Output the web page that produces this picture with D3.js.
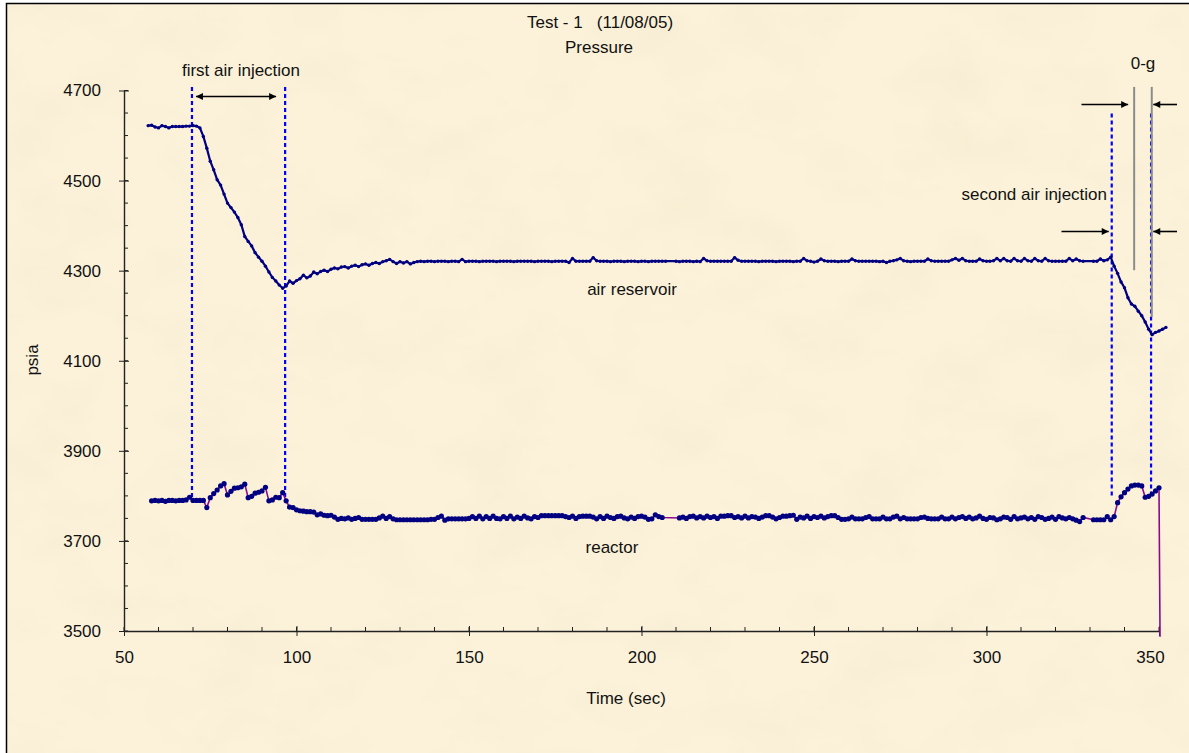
<!DOCTYPE html>
<html>
<head>
<meta charset="utf-8">
<script src="https://cdn.jsdelivr.net/npm/d3@7"></script>
<style>
  body { margin: 0; background: #fff; }
  svg text { font-family: "Liberation Sans", Arial, sans-serif; fill: #111; }
</style>
</head>
<body>
<div id="chart"></div>
<script>
// air reservoir pressure, one sample per second (psia)
var airTime = [
  57,58,59,60,61,62,63,64,65,66,
  67,68,69,70,71,72,73,74,75,76,
  77,78,79,80,81,82,83,84,85,86,
  87,88,89,90,91,92,93,94,95,96,
  97,98,99,100,101,102,103,104,105,106,
  107,108,109,110,111,112,113,114,115,116,
  117,118,119,120,121,122,123,124,125,126,
  127,128,129,130,131,132,133,134,135,136,
  137,138,139,140,141,142,143,144,145,146,
  147,148,149,150,151,152,153,154,155,156,
  157,158,159,160,161,162,163,164,165,166,
  167,168,169,170,171,172,173,174,175,176,
  177,178,179,180,181,182,183,184,185,186,
  187,188,189,190,191,192,193,194,195,196,
  197,198,199,200,201,202,203,204,205,206,
  207,210,211,212,213,214,215,216,217,218,
  219,220,221,222,223,224,225,226,227,228,
  229,230,231,232,233,234,235,236,237,238,
  239,240,241,242,243,244,245,246,247,248,
  249,250,251,252,253,254,255,256,257,258,
  259,260,261,262,263,264,265,266,267,268,
  269,270,271,272,273,274,275,276,277,278,
  279,280,281,282,283,284,285,286,287,288,
  289,290,291,292,293,294,295,296,297,298,
  299,300,301,302,303,304,305,306,307,308,
  309,310,311,312,313,314,315,316,317,318,
  319,320,321,322,323,324,325,326,327,328,
  331,332,333,334,335,336,337,338,339,340,
  341,342,343,344,345,346,347,348,349,350,
  351,352
];
var airPsia = [
  4622,4623,4619,4617,4622,4620,4617,4620,4620,4620,
  4620,4621,4621,4622,4621,4617,4598,4572,4543,4524,
  4502,4490,4470,4450,4440,4430,4418,4402,4376,4365,
  4355,4340,4330,4321,4310,4297,4285,4277,4268,4261,
  4266,4277,4272,4278,4282,4290,4284,4288,4297,4293,
  4298,4301,4298,4303,4306,4304,4308,4309,4306,4310,
  4312,4309,4313,4315,4312,4316,4318,4316,4320,4322,
  4325,4320,4316,4320,4317,4320,4315,4318,4320,4321,
  4320,4321,4321,4320,4321,4321,4321,4320,4321,4321,
  4320,4325,4320,4321,4321,4321,4320,4321,4321,4321,
  4321,4320,4321,4321,4321,4321,4320,4321,4321,4321,
  4321,4321,4320,4321,4321,4321,4321,4320,4321,4321,
  4321,4321,4318,4327,4321,4321,4321,4321,4321,4329,
  4322,4321,4321,4321,4320,4321,4321,4321,4320,4321,
  4321,4321,4320,4321,4321,4320,4321,4321,4321,4321,
  4321,4321,4320,4321,4321,4321,4320,4321,4320,4327,
  4322,4321,4321,4321,4321,4321,4321,4321,4329,4323,
  4321,4321,4321,4321,4321,4320,4321,4321,4321,4321,
  4320,4321,4321,4321,4321,4320,4321,4321,4327,4322,
  4321,4319,4321,4326,4322,4321,4321,4321,4320,4321,
  4321,4321,4326,4322,4321,4321,4321,4321,4321,4321,
  4320,4321,4318,4321,4322,4324,4327,4322,4321,4320,
  4321,4321,4321,4321,4326,4322,4321,4321,4321,4321,
  4321,4324,4327,4323,4327,4322,4321,4321,4321,4326,
  4322,4321,4321,4322,4327,4322,4327,4322,4321,4327,
  4322,4321,4327,4322,4321,4327,4322,4321,4327,4322,
  4321,4321,4321,4321,4321,4327,4322,4326,4322,4321,
  4321,4321,4326,4322,4324,4330,4310,4294,4275,4262,
  4240,4226,4221,4210,4200,4186,4170,4158,4163,4166,
  4170,4174
];

// reactor pressure (psia), last sample falls off the bottom of the axis
var reactorTime = [
  58,59,60,61,62,63,64,65,66,67,
  68,69,70,71,72,73,74,75,76,77,
  78,79,80,81,82,83,84,85,86,87,
  88,89,90,91,92,93,94,95,96,97,
  98,99,100,101,102,103,104,105,106,107,
  108,109,110,111,112,113,114,115,116,117,
  118,119,120,121,122,123,124,125,126,127,
  128,129,130,131,132,133,134,135,136,137,
  138,139,140,141,142,143,144,145,146,147,
  148,149,150,151,152,153,154,155,156,157,
  158,159,160,161,162,163,164,165,166,167,
  168,169,170,171,172,173,174,175,176,177,
  178,179,180,181,182,183,184,185,186,187,
  188,189,190,191,192,193,194,195,196,197,
  198,199,200,201,202,203,204,205,206,211,
  212,213,214,215,216,217,218,219,220,221,
  222,223,224,225,226,227,228,229,230,231,
  232,233,234,235,236,237,238,239,240,241,
  242,243,244,245,246,247,248,249,250,251,
  252,253,254,255,256,257,258,259,260,261,
  262,263,264,265,266,267,268,269,270,271,
  272,273,274,275,276,277,278,279,280,281,
  282,283,284,285,286,287,288,289,290,291,
  292,293,294,295,296,297,298,299,300,301,
  302,303,304,305,306,307,308,309,310,311,
  312,313,314,315,316,317,318,319,320,321,
  322,323,324,325,326,327,328,331,332,333,
  334,335,336,337,338,339,340,341,342,343,
  344,345,346,347,348,349,350,350.3
];
var reactorPsia = [
  3789,3790,3789,3790,3788,3790,3790,3789,3790,3790,
  3791,3797,3790,3790,3790,3790,3774,3796,3805,3813,
  3822,3827,3802,3810,3817,3818,3820,3826,3796,3799,
  3806,3808,3811,3819,3789,3791,3797,3796,3807,3789,
  3775,3774,3769,3767,3766,3765,3765,3764,3758,3760,
  3757,3756,3757,3753,3748,3750,3749,3751,3748,3750,
  3752,3748,3748,3748,3748,3748,3751,3755,3750,3754,
  3749,3747,3747,3747,3747,3747,3747,3747,3747,3747,
  3747,3748,3748,3752,3755,3746,3749,3749,3749,3749,
  3749,3749,3750,3754,3750,3755,3749,3754,3750,3755,
  3750,3749,3754,3750,3755,3749,3753,3750,3755,3751,
  3749,3754,3752,3756,3756,3756,3756,3756,3756,3756,
  3754,3752,3755,3750,3754,3755,3755,3755,3753,3749,
  3754,3750,3755,3752,3750,3754,3755,3751,3749,3753,
  3750,3754,3755,3753,3748,3749,3758,3754,3752,3751,
  3753,3750,3754,3755,3751,3754,3751,3755,3752,3754,
  3750,3755,3755,3756,3756,3752,3754,3751,3755,3751,
  3754,3753,3750,3753,3756,3756,3753,3749,3752,3755,
  3755,3756,3757,3748,3753,3751,3755,3750,3754,3752,
  3755,3751,3754,3756,3756,3752,3748,3748,3749,3753,
  3749,3749,3749,3752,3754,3749,3749,3749,3753,3749,
  3749,3753,3755,3749,3752,3749,3749,3749,3749,3752,
  3753,3750,3749,3749,3749,3753,3749,3749,3753,3749,
  3752,3754,3750,3753,3749,3751,3755,3750,3748,3752,
  3751,3747,3749,3753,3752,3748,3754,3749,3751,3753,
  3749,3752,3748,3754,3752,3748,3750,3753,3748,3754,
  3751,3749,3752,3749,3746,3743,3752,3747,3747,3747,
  3747,3754,3747,3754,3785,3798,3807,3815,3822,3824,
  3824,3822,3797,3799,3804,3811,3818,3487
];

var xTicks = [50, 100, 150, 200, 250, 300, 350];
var yTicks = [3500, 3700, 3900, 4100, 4300, 4500, 4700];

// event times (sec)
var injectionTimes = [69.7, 96.7, 336.3, 347.7];   // blue dashed markers
var zeroGTimes = [342.8, 347.9];                    // grey 0-g bounds

function drawChart(){
    var W = 1189, H = 753;
    var svg = d3.select("#chart").append("svg")
        .attr("width", W)
        .attr("height", H);

    var defs = svg.append("defs");
    var filt = defs.append("filter").attr("id", "parch")
        .attr("x", 0).attr("y", 0).attr("width", "100%").attr("height", "100%");
    filt.append("feTurbulence")
        .attr("type", "fractalNoise")
        .attr("baseFrequency", "0.011 0.016")
        .attr("numOctaves", 4)
        .attr("seed", 7);
    filt.append("feColorMatrix")
        .attr("type", "matrix")
        .attr("values", "0 0 0 0 0.90  0 0 0 0 0.82  0 0 0 0 0.62  1.1 0 0 0 -0.48");

    defs.append("marker")
        .attr("id", "head")
        .attr("viewBox", "0 0 10 10")
        .attr("refX", 10).attr("refY", 5)
        .attr("markerWidth", 9).attr("markerHeight", 7)
        .attr("markerUnits", "userSpaceOnUse")
        .attr("orient", "auto-start-reverse")
      .append("path")
        .attr("d", "M0,0L10,5L0,10z")
        .attr("fill", "#000");

    // background + border
    svg.append("rect").attr("x", 6).attr("y", 3).attr("width", W).attr("height", H)
        .attr("fill", "#fcf2da");
    svg.append("rect").attr("x", 6).attr("y", 3).attr("width", W).attr("height", H)
        .attr("filter", "url(#parch)");
    svg.append("rect").attr("x", 6.5).attr("y", 3.5).attr("width", W).attr("height", H)
        .attr("fill", "none").attr("stroke", "#000").attr("stroke-width", 1.5);

    var left = 124, right = 1159, top = 90.5, bottom = 631;

    var x = d3.scaleLinear().domain([50, 350]).range([left, right]);
    var y = d3.scaleLinear().domain([3500, 4700]).range([bottom, top]);

    // minor ticks
    var g = svg.append("g");
    g.selectAll(".xminor")
        .data(d3.range(50, 351, 10))
        .enter().append("line")
        .attr("x1", function(d){ return x(d); }).attr("x2", function(d){ return x(d); })
        .attr("y1", bottom).attr("y2", bottom - 4)
        .attr("stroke", "#222").attr("stroke-width", 1);
    g.selectAll(".yminor")
        .data(d3.range(3500, 4701, 50))
        .enter().append("line")
        .attr("x1", left).attr("x2", left + 4)
        .attr("y1", function(d){ return y(d); }).attr("y2", function(d){ return y(d); })
        .attr("stroke", "#222").attr("stroke-width", 1);

    // axis-x
    var xa = g.append("g")
        .attr("transform", "translate(0," + bottom + ")")
        .call(d3.axisBottom(x).tickValues(xTicks).tickFormat(d3.format("d"))
            .tickSize(5).tickPadding(15).tickSizeOuter(0));
    xa.selectAll(".tick line").attr("y1", -5).attr("stroke", "#222");
    xa.select(".domain").attr("stroke", "#222").attr("stroke-width", 1.4);
    xa.selectAll("text").attr("font-size", "17px").attr("fill", "#111")
        .attr("font-family", "Liberation Sans, Arial, sans-serif");
    // last label is pulled in to sit inside the chart frame
    xa.selectAll(".tick text").filter(function(d){ return d == 350; }).attr("dx", -9);

    // axis-y
    var ya = g.append("g")
        .attr("transform", "translate(" + left + ",0)")
        .call(d3.axisLeft(y).tickValues(yTicks).tickFormat(d3.format("d"))
            .tickSize(5).tickPadding(18).tickSizeOuter(0));
    ya.selectAll(".tick line").attr("x1", 5).attr("stroke", "#222");
    ya.select(".domain").attr("stroke", "#222").attr("stroke-width", 1.4);
    ya.selectAll("text").attr("font-size", "17px").attr("fill", "#111")
        .attr("font-family", "Liberation Sans, Arial, sans-serif");

    // event markers
    svg.selectAll(".inj")
        .data(injectionTimes)
        .enter().append("line")
        .attr("x1", function(d){ return x(d); }).attr("x2", function(d){ return x(d); })
        .attr("y1", function(d, i){ return i < 2 ? y(4708) : y(4649); })
        .attr("y2", y(3797))
        .attr("stroke", "#0000ff").attr("stroke-width", 2.2)
        .attr("stroke-dasharray", "4,3");

    svg.selectAll(".zg")
        .data(zeroGTimes)
        .enter().append("line")
        .attr("x1", function(d){ return x(d); }).attr("x2", function(d){ return x(d); })
        .attr("y1", y(4708))
        .attr("y2", function(d, i){ return i == 0 ? y(4301) : y(4197); })
        .attr("stroke", "#8c8c8c").attr("stroke-width", 2);

    var line = d3.line()
        .x(function(d){ return x(d[0]); })
        .y(function(d){ return y(d[1]); });

    var airData = d3.zip(airTime, airPsia);
    var reactorData = d3.zip(reactorTime, reactorPsia);

    // reactor
    svg.append("path")
        .attr("d", line(reactorData))
        .attr("fill", "none").attr("stroke", "#8b0a8b").attr("stroke-width", 1.6);
    svg.selectAll(".rdot")
        .data(reactorData.filter(function(d){ return d[1] >= 3500; }))
        .enter().append("circle")
        .attr("cx", function(d){ return x(d[0]); })
        .attr("cy", function(d){ return y(d[1]); })
        .attr("r", 2.6)
        .attr("fill", "#000080");

    // air reservoir
    svg.append("path")
        .attr("d", line(airData))
        .attr("fill", "none").attr("stroke", "#000080").attr("stroke-width", 2.2);
    svg.selectAll(".adot")
        .data(airData)
        .enter().append("circle")
        .attr("cx", function(d){ return x(d[0]); })
        .attr("cy", function(d){ return y(d[1]); })
        .attr("r", 1.7)
        .attr("fill", "#000080");

    // arrows
    var arrows = [
        [x(injectionTimes[0]) + 4, x(injectionTimes[1]) - 9, 96.5, true],
        [1081.5, x(zeroGTimes[0]) - 6, 104.5, false],
        [1177, x(zeroGTimes[1]) + 1.5, 104.5, false],
        [1061.5, x(injectionTimes[2]) - 3, 231.5, false],
        [1177, x(zeroGTimes[1]) + 1.5, 231.5, false]
    ];
    arrows.forEach(function(a){
        svg.append("line")
            .attr("x1", a[0]).attr("x2", a[1])
            .attr("y1", a[2]).attr("y2", a[2])
            .attr("stroke", "#000").attr("stroke-width", 1.6)
            .attr("marker-end", "url(#head)")
            .attr("marker-start", a[3] ? "url(#head)" : null);
    });

    // labels
    function label(txt, lx, ly, anchor){
        return svg.append("text")
            .attr("x", lx).attr("y", ly)
            .attr("text-anchor", anchor || "middle")
            .attr("font-size", "17px")
            .style("white-space", "pre")
            .text(txt);
    }
    label("Test - 1   (11/08/05)", 600, 28);
    label("Pressure", 599, 53);
    label("first air injection", 241, 76);
    label("0-g", 1143, 69);
    label("second air injection", 1107, 200, "end");
    label("air reservoir", 632, 295);
    label("reactor", 612, 553);
    label("Time (sec)", 626, 704);
    label("psia", 0, 0).attr("transform", "translate(38,360) rotate(-90)");
}

drawChart();
</script>
</body>
</html>
